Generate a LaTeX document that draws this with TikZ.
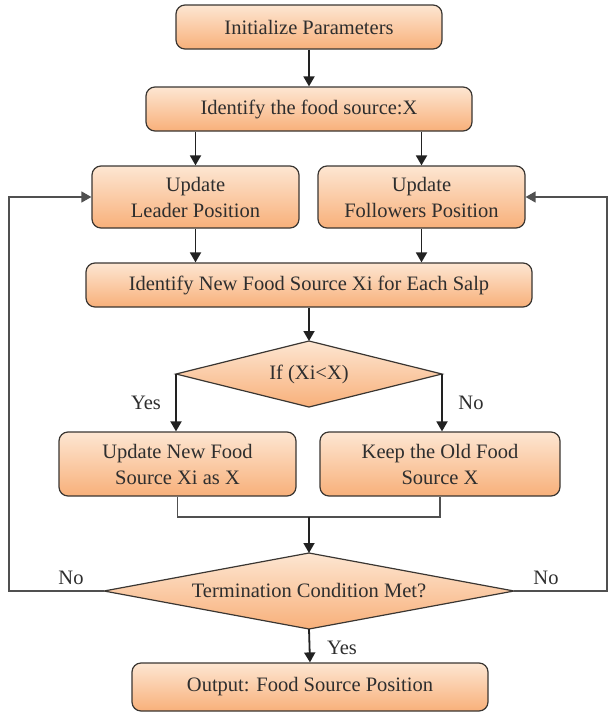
\documentclass[tikz,border=0pt]{standalone}
\usepackage{fontspec}
\setmainfont{Liberation Serif}
\usetikzlibrary{arrows.meta,shapes.geometric}
\definecolor{boxtop}{HTML}{FDE6D2}
\definecolor{boxbot}{HTML}{F8B07A}
\definecolor{boxline}{HTML}{3A3632}
\definecolor{flow}{HTML}{222222}
\definecolor{loopc}{HTML}{505050}
\definecolor{txt}{HTML}{2E2E2E}
\tikzset{
  base/.style={draw=boxline, line width=1.2pt, top color=boxtop, bottom color=boxbot,
    font=\fontsize{20.5}{26}\selectfont, text=txt, align=center, inner sep=0pt},
  procbox/.style={base, rectangle, rounded corners=9pt},
  flowarrow/.style={draw=flow, line width=1.8pt, -{Triangle[length=10pt,width=11pt]}},
  loopline/.style={draw=loopc, line width=1.3pt},
  looparrow/.style={loopline, -{Triangle[length=10pt,width=11pt]}},
  lbl/.style={font=\fontsize{20.5}{24}\selectfont, text=txt, inner sep=0pt}
}
\begin{document}
\begin{tikzpicture}[x=1pt,y=-1pt]
\useasboundingbox (0,0) rectangle (608,713);
\node[procbox, minimum width=266pt, minimum height=44pt] (init) at (309,27) {Initialize Parameters};
\node[procbox, minimum width=326pt, minimum height=44pt] (ident) at (309,109) {Identify the food source:X};
\node[procbox, minimum width=207pt, minimum height=62pt] (leader) at (195.5,197) {Update\\Leader Position};
\node[procbox, minimum width=207pt, minimum height=62pt] (foll) at (421.5,197) {Update\\Followers Position};
\node[procbox, minimum width=446pt, minimum height=44pt] (newfood) at (309,285) {Identify New Food Source Xi for Each Salp};
\path[base, draw=boxline] (176,374) -- (309,341) -- (442,374) -- (309,407) -- cycle;
\node[lbl] (d1) at (309,374) {If (Xi<X)};
\coordinate (d1w) at (176,374);
\coordinate (d1e) at (442,374);
\coordinate (d1n) at (309,341);
\node[procbox, minimum width=237pt, minimum height=64pt] (upd) at (177.5,464) {Update New Food\\Source Xi as X};
\node[procbox, minimum width=240pt, minimum height=64pt] (keep) at (440,464) {Keep the Old Food\\Source X};
\path[base, draw=boxline] (104,591) -- (309,553) -- (514,591) -- (309,629) -- cycle;
\node[lbl] (d2) at (309,591) {Termination Condition Met?};
\coordinate (d2w) at (104,591);
\coordinate (d2e) at (514,591);
\coordinate (d2n) at (309,553);
\coordinate (d2s) at (309,629);
\node[procbox, minimum width=356pt, minimum height=48pt] (out) at (310,687) {Output: Food Source Position};
% flow arrows
\draw[flowarrow] (init.south) -- (ident.north);
\draw[flowarrow] (ident.south -| leader.north) -- (leader.north);
\draw[flowarrow] (ident.south -| foll.north) -- (foll.north);
\draw[flowarrow] (leader.south) -- (leader.south |- newfood.north);
\draw[flowarrow] (foll.south) -- (foll.south |- newfood.north);
\draw[flowarrow] (newfood.south) -- (d1n);
\draw[flowarrow] (d1w) -- (d1w |- upd.north);
\draw[flowarrow] (d1e) -- (d1e |- keep.north);
\coordinate (mergeL) at (177.5,517);
\coordinate (mergeR) at (440,517);
\coordinate (mergeC) at (309,517);
\draw[loopline] (upd.south) -- (mergeL) -- (mergeR) -- (keep.south);
\draw[flowarrow] (mergeC) -- (d2n);
\draw[flowarrow] (d2s) -- (out.north);
% loops
\coordinate (lb) at (9,591);
\coordinate (lt) at (9,197);
\coordinate (rb) at (607,591);
\coordinate (rt) at (607,197);
\draw[looparrow] (d2w) -- (lb) -- (lt) -- (leader.west);
\draw[looparrow] (d2e) -- (rb) -- (rt) -- (foll.east);
% labels
\node[lbl] (yes1) at (146,403) {Yes};
\node[lbl] (no1) at (471,403) {No};
\node[lbl] (no2) at (71,578) {No};
\node[lbl] (no3) at (546,578) {No};
\node[lbl] (yes2) at (342,648) {Yes};
\end{tikzpicture}
\end{document}
